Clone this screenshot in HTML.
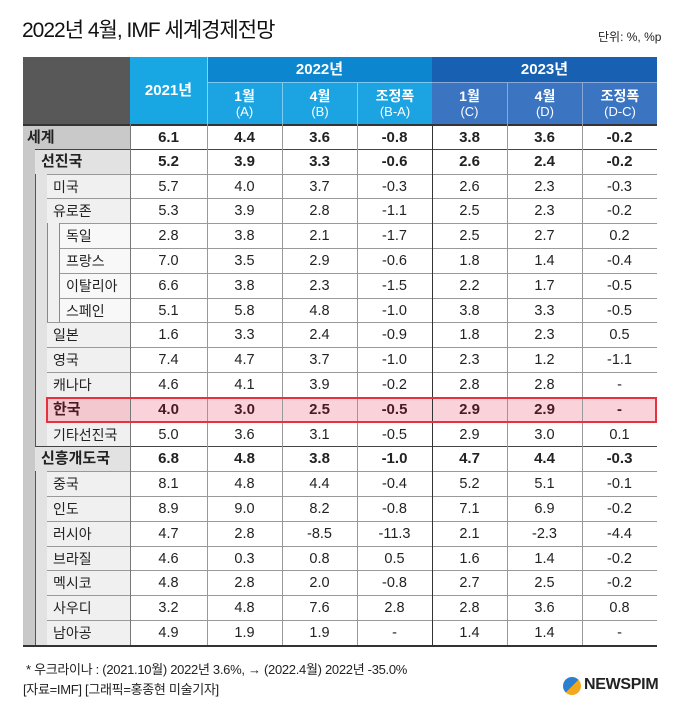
<!DOCTYPE html>
<html><head><meta charset="utf-8">
<style>
*{margin:0;padding:0;box-sizing:border-box}
body{width:680px;height:715px;background:#fff;position:relative;overflow:hidden;font-family:"Liberation Sans","Noto Sans CJK KR",sans-serif;color:#222}
.a{position:absolute}
.h{color:#fff;text-align:center;font-weight:bold;font-size:14px;line-height:16px}
.h small{display:block;font-weight:normal;font-size:13px}
.row{position:absolute;left:0;width:680px;height:24.8px}
.lb{position:absolute;top:0;height:24.8px;right:550px;border-top:1px solid #999;font-size:14px;line-height:24px}
.v{position:absolute;top:0;height:24.8px;border-top:1px solid #999;text-align:center;font-size:14.5px;line-height:24px}
.b .lb,.b .v{font-weight:bold;font-size:15px}
.k .v{background:#f9d3d9;color:#4a1a22}
</style></head><body>
<div class="a" style="left:22px;top:14px;font-size:21px;letter-spacing:-1px;color:#111">2022년 4월, IMF 세계경제전망</div>
<div class="a" style="left:598px;top:28px;font-size:12px;color:#222">단위: %, %p</div>

<div class="a" style="left:23px;top:57px;width:107px;height:67px;background:#585858"></div>
<div class="a h" style="left:130px;top:57px;width:77px;height:67px;background:#19a7e3;padding-top:26px;font-size:15px">2021년</div>
<div class="a h" style="left:207px;top:57px;width:225px;height:25px;background:#0b86cf;padding-top:5px;font-size:15px">2022년</div>
<div class="a h" style="left:432px;top:57px;width:225px;height:25px;background:#1860b1;padding-top:5px;font-size:15px">2023년</div>
<div class="a h" style="left:207px;top:82px;width:75px;height:42px;background:#1ba3e2;padding-top:5px;border-top:1px solid #7fc8ef">1월<small>(A)</small></div>
<div class="a h" style="left:282px;top:82px;width:75px;height:42px;background:#1ba3e2;padding-top:5px;border-top:1px solid #7fc8ef;border-left:1px solid #7fc8ef">4월<small>(B)</small></div>
<div class="a h" style="left:357px;top:82px;width:75px;height:42px;background:#1ba3e2;padding-top:5px;border-top:1px solid #7fc8ef;border-left:1px solid #7fc8ef">조정폭<small>(B-A)</small></div>
<div class="a h" style="left:432px;top:82px;width:75px;height:42px;background:#3b74c1;padding-top:5px;border-top:1px solid #8aa8d8">1월<small>(C)</small></div>
<div class="a h" style="left:507px;top:82px;width:75px;height:42px;background:#3b74c1;padding-top:5px;border-top:1px solid #8aa8d8;border-left:1px solid #8aa8d8">4월<small>(D)</small></div>
<div class="a h" style="left:582px;top:82px;width:75px;height:42px;background:#3b74c1;padding-top:5px;border-top:1px solid #8aa8d8;border-left:1px solid #8aa8d8">조정폭<small>(D-C)</small></div>
<div class="a" style="left:207px;top:57px;width:1px;height:67px;background:#8fd0f0"></div>

<div class="a" style="left:23px;top:124px;width:12px;height:522px;background:#c9c9c9"></div>
<div class="a" style="left:35px;top:148.8px;width:12px;height:497px;background:#e2e2e2;border-left:1px solid #555"></div>
<div class="a" style="left:47px;top:223px;width:12px;height:99px;background:#f0f0f0;border-left:1px solid #888"></div>
<div class="a" style="left:47px;top:173.6px;width:1px;height:223px;background:#888"></div>
<div class="a" style="left:47px;top:471px;width:1px;height:175px;background:#888"></div>

<div id="rows">
<div class="row b" style="top:124px"><div class="lb" style="left:23px;width:107px;background:#c9c9c9;padding-left:4px;border-top:2px solid #333">세계</div><div class="v" style="left:130px;width:77px;border-top:2px solid #333">6.1</div><div class="v" style="left:207px;width:75px;border-top:2px solid #333">4.4</div><div class="v" style="left:282px;width:75px;border-top:2px solid #333">3.6</div><div class="v" style="left:357px;width:75px;border-top:2px solid #333">-0.8</div><div class="v" style="left:432px;width:75px;border-top:2px solid #333">3.8</div><div class="v" style="left:507px;width:75px;border-top:2px solid #333">3.6</div><div class="v" style="left:582px;width:75px;border-top:2px solid #333">-0.2</div></div>
<div class="row b" style="top:148.8px"><div class="lb" style="left:35px;width:95px;background:#e2e2e2;padding-left:6px;border-top:1px solid #444">선진국</div><div class="v" style="left:130px;width:77px;border-top:1px solid #444">5.2</div><div class="v" style="left:207px;width:75px;border-top:1px solid #444">3.9</div><div class="v" style="left:282px;width:75px;border-top:1px solid #444">3.3</div><div class="v" style="left:357px;width:75px;border-top:1px solid #444">-0.6</div><div class="v" style="left:432px;width:75px;border-top:1px solid #444">2.6</div><div class="v" style="left:507px;width:75px;border-top:1px solid #444">2.4</div><div class="v" style="left:582px;width:75px;border-top:1px solid #444">-0.2</div></div>
<div class="row" style="top:173.6px"><div class="lb" style="left:47px;width:83px;background:#f0f0f0;padding-left:6px">미국</div><div class="v" style="left:130px;width:77px">5.7</div><div class="v" style="left:207px;width:75px">4.0</div><div class="v" style="left:282px;width:75px">3.7</div><div class="v" style="left:357px;width:75px">-0.3</div><div class="v" style="left:432px;width:75px">2.6</div><div class="v" style="left:507px;width:75px">2.3</div><div class="v" style="left:582px;width:75px">-0.3</div></div>
<div class="row" style="top:198.4px"><div class="lb" style="left:47px;width:83px;background:#f0f0f0;padding-left:6px">유로존</div><div class="v" style="left:130px;width:77px">5.3</div><div class="v" style="left:207px;width:75px">3.9</div><div class="v" style="left:282px;width:75px">2.8</div><div class="v" style="left:357px;width:75px">-1.1</div><div class="v" style="left:432px;width:75px">2.5</div><div class="v" style="left:507px;width:75px">2.3</div><div class="v" style="left:582px;width:75px">-0.2</div></div>
<div class="row" style="top:223.2px"><div class="lb" style="left:59px;width:71px;background:#f8f8f8;padding-left:6px;border-left:1px solid #888">독일</div><div class="v" style="left:130px;width:77px">2.8</div><div class="v" style="left:207px;width:75px">3.8</div><div class="v" style="left:282px;width:75px">2.1</div><div class="v" style="left:357px;width:75px">-1.7</div><div class="v" style="left:432px;width:75px">2.5</div><div class="v" style="left:507px;width:75px">2.7</div><div class="v" style="left:582px;width:75px">0.2</div></div>
<div class="row" style="top:248px"><div class="lb" style="left:59px;width:71px;background:#f8f8f8;padding-left:6px;border-left:1px solid #888">프랑스</div><div class="v" style="left:130px;width:77px">7.0</div><div class="v" style="left:207px;width:75px">3.5</div><div class="v" style="left:282px;width:75px">2.9</div><div class="v" style="left:357px;width:75px">-0.6</div><div class="v" style="left:432px;width:75px">1.8</div><div class="v" style="left:507px;width:75px">1.4</div><div class="v" style="left:582px;width:75px">-0.4</div></div>
<div class="row" style="top:272.8px"><div class="lb" style="left:59px;width:71px;background:#f8f8f8;padding-left:6px;border-left:1px solid #888">이탈리아</div><div class="v" style="left:130px;width:77px">6.6</div><div class="v" style="left:207px;width:75px">3.8</div><div class="v" style="left:282px;width:75px">2.3</div><div class="v" style="left:357px;width:75px">-1.5</div><div class="v" style="left:432px;width:75px">2.2</div><div class="v" style="left:507px;width:75px">1.7</div><div class="v" style="left:582px;width:75px">-0.5</div></div>
<div class="row" style="top:297.6px"><div class="lb" style="left:59px;width:71px;background:#f8f8f8;padding-left:6px;border-left:1px solid #888">스페인</div><div class="v" style="left:130px;width:77px">5.1</div><div class="v" style="left:207px;width:75px">5.8</div><div class="v" style="left:282px;width:75px">4.8</div><div class="v" style="left:357px;width:75px">-1.0</div><div class="v" style="left:432px;width:75px">3.8</div><div class="v" style="left:507px;width:75px">3.3</div><div class="v" style="left:582px;width:75px">-0.5</div></div>
<div class="row" style="top:322.4px"><div class="lb" style="left:47px;width:83px;background:#f0f0f0;padding-left:6px">일본</div><div class="v" style="left:130px;width:77px">1.6</div><div class="v" style="left:207px;width:75px">3.3</div><div class="v" style="left:282px;width:75px">2.4</div><div class="v" style="left:357px;width:75px">-0.9</div><div class="v" style="left:432px;width:75px">1.8</div><div class="v" style="left:507px;width:75px">2.3</div><div class="v" style="left:582px;width:75px">0.5</div></div>
<div class="row" style="top:347.2px"><div class="lb" style="left:47px;width:83px;background:#f0f0f0;padding-left:6px">영국</div><div class="v" style="left:130px;width:77px">7.4</div><div class="v" style="left:207px;width:75px">4.7</div><div class="v" style="left:282px;width:75px">3.7</div><div class="v" style="left:357px;width:75px">-1.0</div><div class="v" style="left:432px;width:75px">2.3</div><div class="v" style="left:507px;width:75px">1.2</div><div class="v" style="left:582px;width:75px">-1.1</div></div>
<div class="row" style="top:372px"><div class="lb" style="left:47px;width:83px;background:#f0f0f0;padding-left:6px">캐나다</div><div class="v" style="left:130px;width:77px">4.6</div><div class="v" style="left:207px;width:75px">4.1</div><div class="v" style="left:282px;width:75px">3.9</div><div class="v" style="left:357px;width:75px">-0.2</div><div class="v" style="left:432px;width:75px">2.8</div><div class="v" style="left:507px;width:75px">2.8</div><div class="v" style="left:582px;width:75px">-</div></div>
<div class="row b k" style="top:396.8px"><div class="lb" style="left:47px;width:83px;background:#f3c8cf;padding-left:6px;color:#4a1a22">한국</div><div class="v" style="left:130px;width:77px">4.0</div><div class="v" style="left:207px;width:75px">3.0</div><div class="v" style="left:282px;width:75px">2.5</div><div class="v" style="left:357px;width:75px">-0.5</div><div class="v" style="left:432px;width:75px">2.9</div><div class="v" style="left:507px;width:75px">2.9</div><div class="v" style="left:582px;width:75px">-</div></div>
<div class="row" style="top:421.6px"><div class="lb" style="left:47px;width:83px;background:#f0f0f0;padding-left:6px">기타선진국</div><div class="v" style="left:130px;width:77px">5.0</div><div class="v" style="left:207px;width:75px">3.6</div><div class="v" style="left:282px;width:75px">3.1</div><div class="v" style="left:357px;width:75px">-0.5</div><div class="v" style="left:432px;width:75px">2.9</div><div class="v" style="left:507px;width:75px">3.0</div><div class="v" style="left:582px;width:75px">0.1</div></div>
<div class="row b" style="top:446.4px"><div class="lb" style="left:35px;width:95px;background:#e2e2e2;padding-left:6px;border-top:1px solid #444">신흥개도국</div><div class="v" style="left:130px;width:77px;border-top:1px solid #444">6.8</div><div class="v" style="left:207px;width:75px;border-top:1px solid #444">4.8</div><div class="v" style="left:282px;width:75px;border-top:1px solid #444">3.8</div><div class="v" style="left:357px;width:75px;border-top:1px solid #444">-1.0</div><div class="v" style="left:432px;width:75px;border-top:1px solid #444">4.7</div><div class="v" style="left:507px;width:75px;border-top:1px solid #444">4.4</div><div class="v" style="left:582px;width:75px;border-top:1px solid #444">-0.3</div></div>
<div class="row" style="top:471.2px"><div class="lb" style="left:47px;width:83px;background:#f0f0f0;padding-left:6px">중국</div><div class="v" style="left:130px;width:77px">8.1</div><div class="v" style="left:207px;width:75px">4.8</div><div class="v" style="left:282px;width:75px">4.4</div><div class="v" style="left:357px;width:75px">-0.4</div><div class="v" style="left:432px;width:75px">5.2</div><div class="v" style="left:507px;width:75px">5.1</div><div class="v" style="left:582px;width:75px">-0.1</div></div>
<div class="row" style="top:496px"><div class="lb" style="left:47px;width:83px;background:#f0f0f0;padding-left:6px">인도</div><div class="v" style="left:130px;width:77px">8.9</div><div class="v" style="left:207px;width:75px">9.0</div><div class="v" style="left:282px;width:75px">8.2</div><div class="v" style="left:357px;width:75px">-0.8</div><div class="v" style="left:432px;width:75px">7.1</div><div class="v" style="left:507px;width:75px">6.9</div><div class="v" style="left:582px;width:75px">-0.2</div></div>
<div class="row" style="top:520.8px"><div class="lb" style="left:47px;width:83px;background:#f0f0f0;padding-left:6px">러시아</div><div class="v" style="left:130px;width:77px">4.7</div><div class="v" style="left:207px;width:75px">2.8</div><div class="v" style="left:282px;width:75px">-8.5</div><div class="v" style="left:357px;width:75px">-11.3</div><div class="v" style="left:432px;width:75px">2.1</div><div class="v" style="left:507px;width:75px">-2.3</div><div class="v" style="left:582px;width:75px">-4.4</div></div>
<div class="row" style="top:545.6px"><div class="lb" style="left:47px;width:83px;background:#f0f0f0;padding-left:6px">브라질</div><div class="v" style="left:130px;width:77px">4.6</div><div class="v" style="left:207px;width:75px">0.3</div><div class="v" style="left:282px;width:75px">0.8</div><div class="v" style="left:357px;width:75px">0.5</div><div class="v" style="left:432px;width:75px">1.6</div><div class="v" style="left:507px;width:75px">1.4</div><div class="v" style="left:582px;width:75px">-0.2</div></div>
<div class="row" style="top:570.4px"><div class="lb" style="left:47px;width:83px;background:#f0f0f0;padding-left:6px">멕시코</div><div class="v" style="left:130px;width:77px">4.8</div><div class="v" style="left:207px;width:75px">2.8</div><div class="v" style="left:282px;width:75px">2.0</div><div class="v" style="left:357px;width:75px">-0.8</div><div class="v" style="left:432px;width:75px">2.7</div><div class="v" style="left:507px;width:75px">2.5</div><div class="v" style="left:582px;width:75px">-0.2</div></div>
<div class="row" style="top:595.2px"><div class="lb" style="left:47px;width:83px;background:#f0f0f0;padding-left:6px">사우디</div><div class="v" style="left:130px;width:77px">3.2</div><div class="v" style="left:207px;width:75px">4.8</div><div class="v" style="left:282px;width:75px">7.6</div><div class="v" style="left:357px;width:75px">2.8</div><div class="v" style="left:432px;width:75px">2.8</div><div class="v" style="left:507px;width:75px">3.6</div><div class="v" style="left:582px;width:75px">0.8</div></div>
<div class="row" style="top:620px"><div class="lb" style="left:47px;width:83px;background:#f0f0f0;padding-left:6px">남아공</div><div class="v" style="left:130px;width:77px">4.9</div><div class="v" style="left:207px;width:75px">1.9</div><div class="v" style="left:282px;width:75px">1.9</div><div class="v" style="left:357px;width:75px">-</div><div class="v" style="left:432px;width:75px">1.4</div><div class="v" style="left:507px;width:75px">1.4</div><div class="v" style="left:582px;width:75px">-</div></div>
</div>

<div class="a" style="left:130px;top:124px;width:1px;height:522px;background:#777"></div>
<div class="a" style="left:207px;top:124px;width:1px;height:522px;background:#999"></div>
<div class="a" style="left:282px;top:124px;width:1px;height:522px;background:#999"></div>
<div class="a" style="left:357px;top:124px;width:1px;height:522px;background:#999"></div>
<div class="a" style="left:432px;top:124px;width:1px;height:522px;background:#333"></div>
<div class="a" style="left:507px;top:124px;width:1px;height:522px;background:#999"></div>
<div class="a" style="left:582px;top:124px;width:1px;height:522px;background:#999"></div>
<div class="a" style="left:23px;top:645px;width:634px;height:1.5px;background:#333"></div>
<div class="a" style="left:46px;top:397px;width:611px;height:26px;border:2px solid #e6313f"></div>

<div class="a" style="left:26px;top:659px;font-size:13px;color:#222;letter-spacing:-0.3px">* 우크라이나 : (2021.10월) 2022년 3.6%, → (2022.4월) 2022년 -35.0%</div>
<div class="a" style="left:23px;top:679px;font-size:13px;color:#222;letter-spacing:-0.3px">[자료=IMF] [그래픽=홍종현 미술기자]</div>
<div class="a" style="left:563px;top:677px;width:18px;height:18px;border-radius:50%;background:linear-gradient(135deg,#2a7fd0 50%,#f2a81d 50%)"></div>
<div class="a" style="left:584px;top:676px;font-size:16px;font-weight:bold;color:#222;letter-spacing:-0.3px">NEWSPIM</div>
</body></html>
